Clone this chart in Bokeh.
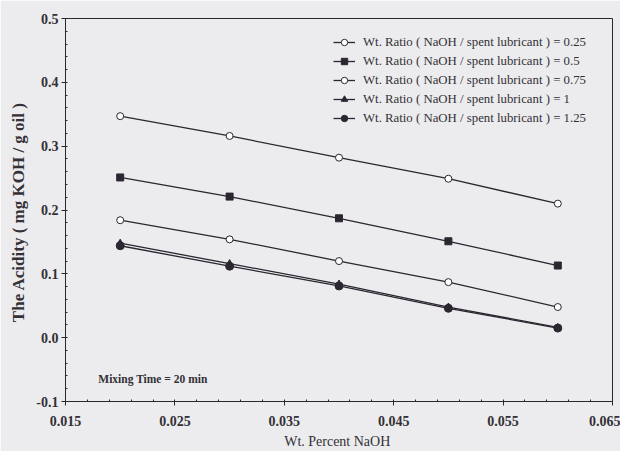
from bokeh.plotting import figure
from bokeh.models import FixedTicker, PrintfTickFormatter, Legend, LegendItem, Label
from bokeh.embed import file_html
from bokeh.resources import INLINE

# ---- data ----
wt_percent_naoh = [0.02, 0.03, 0.04, 0.05, 0.06]
acidity_r025 = [0.347, 0.316, 0.282, 0.249, 0.210]
acidity_r05 = [0.251, 0.221, 0.187, 0.151, 0.113]
acidity_r075 = [0.184, 0.154, 0.120, 0.087, 0.048]
acidity_r1 = [0.148, 0.116, 0.084, 0.048, 0.016]
acidity_r125 = [0.144, 0.112, 0.081, 0.046, 0.015]
series_labels = [
    "Wt. Ratio ( NaOH / spent lubricant ) = 0.25",
    "Wt. Ratio ( NaOH / spent lubricant ) = 0.5",
    "Wt. Ratio ( NaOH / spent lubricant ) = 0.75",
    "Wt. Ratio ( NaOH / spent lubricant ) = 1",
    "Wt. Ratio ( NaOH / spent lubricant ) = 1.25",
]
x_ticks = [0.015, 0.025, 0.035, 0.045, 0.055, 0.065]
y_ticks = [-0.1, 0.0, 0.1, 0.2, 0.3, 0.4, 0.5]
note_text = "Mixing Time = 20 min"
x_title = "Wt. Percent  NaOH"
y_title = "The Acidity  ( mg KOH / g oil )"

FONT = "Liberation Serif"
INK = "#2b2630"
TXT = "#333036"
BG = "#ececee"

p = figure(width=620, height=451, x_range=(0.015, 0.065), y_range=(-0.1, 0.5),
           output_backend="svg", toolbar_location=None,
           min_border_left=65, min_border_right=8, min_border_top=18, min_border_bottom=48)
p.background_fill_color = BG
p.border_fill_color = BG
p.outline_line_color = INK
p.outline_line_width = 1
p.xgrid.visible = False
p.ygrid.visible = False

for ax in (p.xaxis[0], p.yaxis[0]):
    ax.axis_line_color = INK
    ax.major_tick_line_color = INK
    ax.minor_tick_line_color = INK
    ax.major_tick_out = 4
    ax.major_tick_in = 0
    ax.minor_tick_in = 2
    ax.minor_tick_out = 0
    ax.major_label_text_font = FONT
    ax.major_label_text_font_size = "14px"
    ax.major_label_text_font_style = "bold"
    ax.major_label_text_color = TXT
    ax.axis_label_text_font = FONT
    ax.axis_label_text_color = TXT

p.xaxis.ticker = FixedTicker(ticks=x_ticks, minor_ticks=[x_ticks[0] + i * 0.002 for i in range(26)])
p.yaxis.ticker = FixedTicker(ticks=y_ticks, minor_ticks=[-0.1 + i * 0.02 for i in range(31)])
p.xaxis.formatter = PrintfTickFormatter(format="%.3f")
p.yaxis.formatter = PrintfTickFormatter(format="%.1f")
p.xaxis.major_label_standoff = 10
p.yaxis.major_label_standoff = 3
p.xaxis.axis_label = x_title
p.yaxis.axis_label = y_title
p.xaxis.axis_label_text_font_size = "14px"
p.xaxis.axis_label_text_font_style = "normal"
p.yaxis.axis_label_text_font_size = "17px"
p.yaxis.axis_label_text_font_style = "bold"
p.xaxis.axis_label_standoff = 5
p.yaxis.axis_label_standoff = 5

series = [acidity_r025, acidity_r05, acidity_r075, acidity_r1, acidity_r125]
markers = ["circle", "square", "circle", "triangle", "circle"]
fills = ["white", INK, "white", INK, INK]
sizes = [7, 7, 7, 7, 8]

items = []
for ys, mk, fc, sz, lab in zip(series, markers, fills, sizes, series_labels):
    ln = p.line(wt_percent_naoh, ys, line_color=INK, line_width=1.3)
    sc = p.scatter(wt_percent_naoh, ys, marker=mk, size=sz, line_color=INK,
                   fill_color=fc, line_width=1)
    items.append(LegendItem(label=lab, renderers=[ln, sc]))

legend = Legend(items=items, location=(268, 275), orientation="vertical",
                background_fill_alpha=0, border_line_alpha=0,
                label_text_font=FONT, label_text_font_size="12.8px",
                label_text_color=TXT, glyph_width=22, glyph_height=16,
                label_height=16, spacing=3, padding=0, margin=0, label_standoff=8)
p.add_layout(legend)

p.add_layout(Label(x=0.018, y=-0.065, text=note_text, text_font=FONT,
                   text_font_size="11.5px", text_font_style="bold",
                   text_color=TXT, text_baseline="middle"))

open("out.html", "w").write(file_html(p, INLINE))
